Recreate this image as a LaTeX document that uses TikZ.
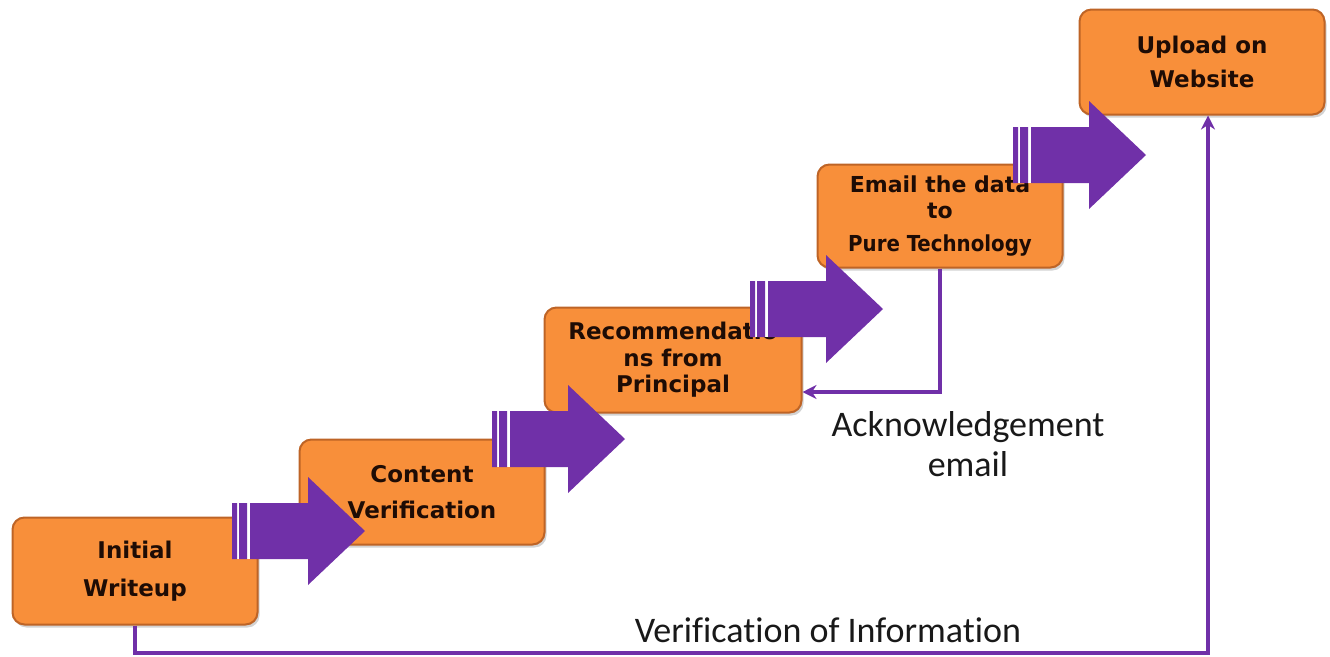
\documentclass[tikz,border=0pt]{standalone}
\usepackage{fontspec}
\setmainfont{DejaVu Sans}
\newfontfamily\calibfont[Ligatures=NoCommon]{Carlito}
\newfontfamily\condfont{DejaVu Sans Condensed}
\usetikzlibrary{arrows.meta,shadows}
\definecolor{steporange}{RGB}{248,143,58}
\definecolor{stepedge}{RGB}{190,100,38}
\definecolor{flowpurple}{RGB}{112,48,168}
\definecolor{steptext}{RGB}{30,12,5}
\begin{document}
\begin{tikzpicture}[x=1pt,y=-1pt,>={Stealth[length=14pt,width=14pt]}]
	\tikzset{stepbox/.style={draw=stepedge,line width=2pt,fill=steporange,rounded corners=12pt,
			minimum width=245pt,minimum height=105pt,align=center,text=steptext,
			font=\bfseries\fontsize{23}{36}\selectfont,
			drop shadow={shadow xshift=2pt,shadow yshift=-3pt,opacity=.35}},
		conn/.style={draw=flowpurple,line width=4pt},
		caption/.style={text=black!90,align=center,font=\calibfont\fontsize{36}{40}\selectfont}}
	\useasboundingbox (0,0) rectangle (1330,656);
	% steps
	\node[stepbox,minimum height=107pt] (init) at (135,571) {Initial\\[2pt]Writeup};
	\node[stepbox] (content) at (422,492) {Content\\Verification};
	\node[stepbox,minimum width=257pt,font=\bfseries\fontsize{23}{26.5}\selectfont] (reco) at (673,360) {Recommendatio\\ns from\\Principal};
	\node[stepbox,minimum height=103pt,font=\bfseries\fontsize{22}{26}\selectfont] (email) at (940,216) {Email the data\\to\\[7pt]{\condfont Pure Technology}};
	\node[stepbox] (upload) at (1202,62) {Upload on\\[-2pt]Website};
	% block arrows between the steps
	\foreach \s/\c in {232/531,492/439,750/309,1013/155}{
		\fill[white] (\s,\c-28) rectangle (\s+18,\c+28);
		\fill[flowpurple] (\s,\c-28) rectangle (\s+5,\c+28) (\s+7,\c-28) rectangle (\s+15,\c+28);
		\fill[flowpurple] (\s+18,\c-28) -- (\s+76,\c-28) -- (\s+76,\c-54) -- (\s+133,\c)
		-- (\s+76,\c+54) -- (\s+76,\c+28) -- (\s+18,\c+28) -- cycle;
	}
	% feedback lines
	\coordinate (ackturn) at (941,392);
	\coordinate (veriturn) at (1208,653);
	\draw[conn,->] (email.south) -- (email.south |- ackturn) -- (reco.east |- ackturn);
	\draw[conn,->] (init.south) -- (init.south |- veriturn) -- (veriturn) -- (veriturn |- upload.south);
	\node[caption] (ack) at (968,444) {Acknowledgement\\email};
	\node[caption] (veri) at (828,630) {Verification of Information};
\end{tikzpicture}
\end{document}
